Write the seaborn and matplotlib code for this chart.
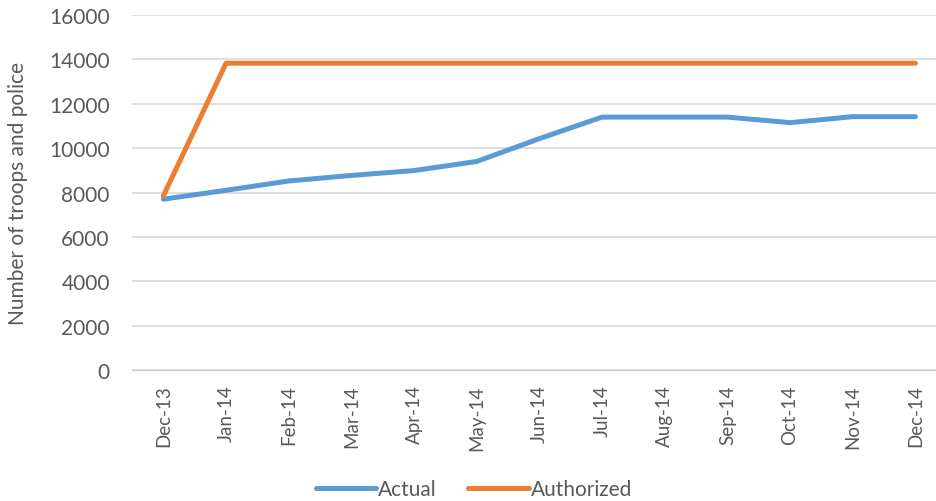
import matplotlib
matplotlib.use("Agg")
import matplotlib.pyplot as plt
import seaborn as sns
import pandas as pd

months = ["Dec-13", "Jan-14", "Feb-14", "Mar-14", "Apr-14", "May-14", "Jun-14",
          "Jul-14", "Aug-14", "Sep-14", "Oct-14", "Nov-14", "Dec-14"]
actual = [7700, 8100, 8520, 8770, 8990, 9400, 10430, 11400, 11400, 11400, 11150, 11420, 11420]
authorized = [7850, 13830, 13830, 13830, 13830, 13830, 13830, 13830, 13830, 13830, 13830, 13830, 13830]
yticks = [0, 2000, 4000, 6000, 8000, 10000, 12000, 14000, 16000]

df = pd.DataFrame({
    "month": months * 2,
    "value": actual + authorized,
    "series": ["Actual"] * len(months) + ["Authorized"] * len(months),
})

sns.set_style("white")
plt.rcParams["font.family"] = ["Lato", "DejaVu Sans"]
text_color = "#595959"

fig = plt.figure(figsize=(9.37, 5.02), dpi=100)
ax = fig.add_axes([0.1409, 0.261, 0.8695, 0.707])

sns.lineplot(data=df, x="month", y="value", hue="series", sort=False,
             palette={"Actual": "#5B9BD5", "Authorized": "#ED7D31"},
             linewidth=3.6, ax=ax)

ax.set_xlim(-0.5, len(months) - 0.5)
ax.set_ylim(0, 16000)
ax.set_yticks(yticks)
ax.set_yticklabels([str(t) for t in yticks], fontsize=15, color=text_color)
ax.set_xticks(range(len(months)))
ax.set_xticklabels(months, rotation=90, fontsize=13.5, color=text_color)
ax.tick_params(axis="y", length=0, pad=16)
ax.tick_params(axis="x", length=0, pad=10.5)
ax.grid(axis="y", color="#d9d9d9", linewidth=1.2)
ax.set_axisbelow(True)
for s in ["left", "right", "top"]:
    ax.spines[s].set_visible(False)
ax.spines["bottom"].set_color("#c8c8c8")
ax.set_xlabel("")
ax.set_ylabel("Number of troops and police", fontsize=15, color=text_color)
ax.yaxis.set_label_coords(-0.128, 0.5)

handles, labels = ax.get_legend_handles_labels()
ax.legend(handles, labels, loc="center", bbox_to_anchor=(474 / 937, 12 / 502),
          bbox_transform=fig.transFigure, ncol=2, frameon=False, fontsize=15,
          handlelength=2.9, handletextpad=0.1, columnspacing=1.5,
          labelcolor=text_color)

fig.savefig("out.png", dpi=100)
